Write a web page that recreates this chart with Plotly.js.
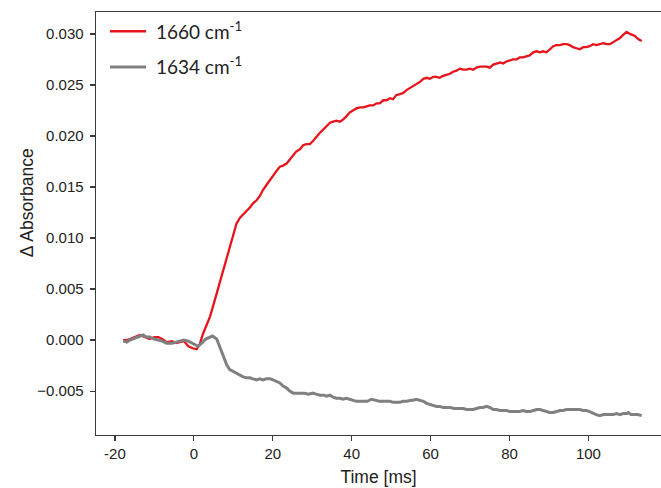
<!DOCTYPE html>
<html>
<head>
<meta charset="utf-8">
<script src="https://cdn.plot.ly/plotly-3.0.1.min.js"></script>
<style>html,body{margin:0;padding:0;background:#fff;}#chart{width:661px;height:488px;}</style>
</head>
<body>
<div id="chart"></div>
<script>
// Time [ms] and Δ Absorbance, 1660 cm-1
const red_t = [-17.9,-17.0,-16.2,-15.0,-13.7,-12.5,-11.2,-10.0,-9.0,-8.0,-6.9,-5.5,-4.5,-3.5,-2.5,-1.4,-0.3,0.7,1.5,2.3,3.2,4.1,5.0,5.8,6.6,7.5,8.3,9.1,10.0,10.8,11.7,12.5,13.4,14.2,15.0,15.9,16.7,17.5,18.4,19.3,20.1,21.0,21.8,22.6,23.5,24.3,25.2,26.0,26.9,27.7,28.5,29.4,30.2,31.0,31.9,32.7,33.6,34.5,35.3,36.1,37.0,37.8,38.6,39.5,40.3,41.2,42.1,43.0,43.8,44.6,45.5,46.3,47.1,48.0,48.8,49.7,50.5,51.3,52.2,53.0,53.9,54.8,55.6,56.4,57.3,58.2,59.0,59.8,60.7,61.5,62.3,63.2,64.1,64.9,65.7,66.6,67.4,68.3,69.1,70.0,70.8,71.6,72.5,73.3,74.2,75.0,75.9,76.7,77.6,78.4,79.2,80.1,80.9,81.8,82.6,83.4,84.3,85.1,86.0,86.9,87.7,88.5,89.4,90.2,91.1,91.9,92.8,93.6,94.5,95.3,96.1,97.0,97.8,98.7,99.5,100.3,101.2,102.0,102.9,103.8,104.6,105.5,106.3,107.1,108.0,108.8,109.7,110.5,111.2,111.8,112.6,113.5];
const red_y = [0.0000,0.0000,0.0001,0.0003,0.0005,0.0003,0.0001,0.0003,0.0003,0.0001,-0.0002,-0.0001,-0.0003,-0.0002,-0.0001,-0.0006,-0.0008,-0.0009,-0.0004,0.0006,0.0014,0.0023,0.0035,0.0046,0.0056,0.0068,0.0080,0.0092,0.0105,0.0114,0.0120,0.0123,0.0126,0.0130,0.0134,0.0137,0.0141,0.0147,0.0152,0.0157,0.0162,0.0166,0.0170,0.0171,0.0173,0.0177,0.0182,0.0185,0.0187,0.0191,0.0192,0.0192,0.0195,0.0199,0.0203,0.0206,0.0210,0.0213,0.0214,0.0215,0.0214,0.0216,0.0219,0.0223,0.0225,0.0227,0.0228,0.0228,0.0229,0.0230,0.0230,0.0232,0.0232,0.0235,0.0235,0.0237,0.0236,0.0240,0.0241,0.0242,0.0245,0.0247,0.0249,0.0251,0.0253,0.0256,0.0257,0.0256,0.0258,0.0258,0.0257,0.0259,0.0260,0.0261,0.0263,0.0264,0.0266,0.0265,0.0265,0.0266,0.0265,0.0267,0.0268,0.0268,0.0268,0.0267,0.0270,0.0271,0.0272,0.0271,0.0273,0.0274,0.0275,0.0275,0.0277,0.0277,0.0278,0.0279,0.0282,0.0283,0.0282,0.0283,0.0282,0.0285,0.0288,0.0289,0.0289,0.0290,0.0290,0.0289,0.0287,0.0286,0.0285,0.0287,0.0287,0.0288,0.0290,0.0289,0.0290,0.0291,0.0290,0.0290,0.0292,0.0294,0.0296,0.0299,0.0302,0.0300,0.0299,0.0298,0.0295,0.0293];

// 1634 cm-1
const gray_t = [-17.9,-17.0,-16.2,-15.0,-13.7,-12.9,-12.0,-11.2,-10.0,-9.0,-8.0,-6.9,-5.5,-4.5,-3.5,-2.5,-1.4,-0.3,0.5,1.1,2.0,3.0,4.1,4.7,5.8,6.6,7.5,8.3,9.1,10.0,11.0,11.7,12.5,13.4,14.2,15.0,15.9,16.7,17.5,18.4,19.3,20.1,21.0,21.8,22.6,23.5,24.3,25.2,26.0,27.0,28.0,29.0,30.2,31.0,32.0,33.0,33.6,34.5,35.3,36.1,37.0,37.8,38.6,39.5,40.3,41.2,42.1,43.0,44.0,45.0,46.0,47.0,48.0,48.8,49.7,50.5,51.3,52.2,53.0,54.0,55.0,55.6,56.4,57.3,58.2,59.0,60.0,60.7,61.5,62.3,63.2,64.1,65.0,66.0,67.0,68.3,69.1,70.0,70.8,71.6,72.5,73.3,74.2,75.0,75.9,76.7,77.6,78.4,79.2,80.1,80.9,81.8,82.6,83.4,84.3,85.2,86.0,86.9,87.7,88.5,89.4,90.2,91.1,91.9,92.8,93.6,94.5,95.3,96.2,97.0,97.8,98.7,99.5,100.3,101.2,102.0,102.9,103.8,104.6,105.5,106.3,107.1,108.0,108.8,109.7,110.1,110.8,111.4,112.5,113.5];
const gray_y = [-0.0001,-0.0002,0.0000,0.0002,0.0004,0.0005,0.0003,0.0003,0.0001,0.0000,-0.0001,-0.0003,-0.0003,-0.0002,-0.0001,0.0000,-0.0001,-0.0003,-0.0005,-0.0006,-0.0003,0.0001,0.0003,0.0004,0.0001,-0.0007,-0.0016,-0.0024,-0.0029,-0.0031,-0.0033,-0.0034,-0.0036,-0.0037,-0.0037,-0.0038,-0.0039,-0.0038,-0.0039,-0.0038,-0.0038,-0.0039,-0.0041,-0.0042,-0.0045,-0.0047,-0.0050,-0.0052,-0.0052,-0.0052,-0.0052,-0.0053,-0.0052,-0.0053,-0.0054,-0.0054,-0.0055,-0.0054,-0.0056,-0.0057,-0.0057,-0.0058,-0.0057,-0.0058,-0.0059,-0.0060,-0.0060,-0.0060,-0.0060,-0.0058,-0.0059,-0.0060,-0.0060,-0.0060,-0.0060,-0.0061,-0.0061,-0.0061,-0.0060,-0.0060,-0.0059,-0.0059,-0.0058,-0.0059,-0.0060,-0.0062,-0.0063,-0.0064,-0.0065,-0.0065,-0.0066,-0.0066,-0.0066,-0.0067,-0.0067,-0.0067,-0.0068,-0.0068,-0.0068,-0.0067,-0.0066,-0.0066,-0.0065,-0.0066,-0.0068,-0.0068,-0.0069,-0.0069,-0.0069,-0.0070,-0.0070,-0.0070,-0.0070,-0.0069,-0.0070,-0.0070,-0.0069,-0.0068,-0.0068,-0.0069,-0.0070,-0.0071,-0.0071,-0.0070,-0.0069,-0.0069,-0.0068,-0.0068,-0.0068,-0.0068,-0.0068,-0.0069,-0.0069,-0.0070,-0.0072,-0.0073,-0.0074,-0.0073,-0.0073,-0.0073,-0.0073,-0.0072,-0.0073,-0.0072,-0.0072,-0.0071,-0.0073,-0.0073,-0.0073,-0.0074];

const series_names = ['\u00a01660 cm<sup>-1</sup>', '\u00a01634 cm<sup>-1</sup>'];
const x_ticks = [-20, 0, 20, 40, 60, 80, 100];
const y_ticks = [-0.005, 0.000, 0.005, 0.010, 0.015, 0.020, 0.025, 0.030];
const x_title = 'Time [ms]';
const y_title = 'Δ Absorbance';

const axisColor = '#3a3a3a';
const tickFont = {family: 'Liberation Sans, Arial, sans-serif', size: 15, color: '#222'};
const titleFont = {family: 'Liberation Sans, Arial, sans-serif', size: 17.5, color: '#222'};

const traces = [
  {x: red_t, y: red_y, type: 'scatter', mode: 'lines', name: series_names[0], legendgroup: 'a',
   line: {color: '#e8141c', width: 2.3}},
  {x: gray_t, y: gray_y, type: 'scatter', mode: 'lines', name: series_names[1], legendgroup: 'b',
   line: {color: '#808080', width: 3}}
];

const layout = {
  width: 661, height: 488,
  margin: {l: 96, r: 0, t: 12, b: 53, pad: 0},
  paper_bgcolor: '#fff', plot_bgcolor: '#fff',
  showlegend: true,
  legend: {x: 0.016, y: 0.999, xanchor: 'left', yanchor: 'top', bgcolor: 'rgba(0,0,0,0)',
           font: {family: 'Lato, Noto Sans, sans-serif', size: 19, color: '#222'},
           tracegroupgap: 8, itemwidth: 36},
  xaxis: {range: [-24.8, 118.4], tickvals: x_ticks, ticktext: x_ticks.map(String),
          showgrid: false, zeroline: false, showline: true, mirror: true,
          linecolor: axisColor, linewidth: 1.4, ticks: 'outside', ticklen: 5, tickwidth: 1.2,
          tickcolor: axisColor, tickfont: tickFont,
          title: {text: x_title, font: titleFont, standoff: 9}},
  yaxis: {range: [-0.0093, 0.03215], tickvals: y_ticks, tickformat: '.3f',
          showgrid: false, zeroline: false, showline: true, mirror: false,
          linecolor: axisColor, linewidth: 1.4, ticks: 'outside', ticklen: 5, tickwidth: 1.2,
          tickcolor: axisColor, tickfont: tickFont, ticklabelstandoff: 3},
  annotations: [
    {text: y_title, xref: 'paper', yref: 'paper', x: -0.122, y: 0.548, xanchor: 'center', yanchor: 'middle',
     textangle: -90, showarrow: false, font: titleFont}
  ]
};

Plotly.newPlot('chart', traces, layout, {displayModeBar: false, staticPlot: true});
</script>
</body>
</html>
